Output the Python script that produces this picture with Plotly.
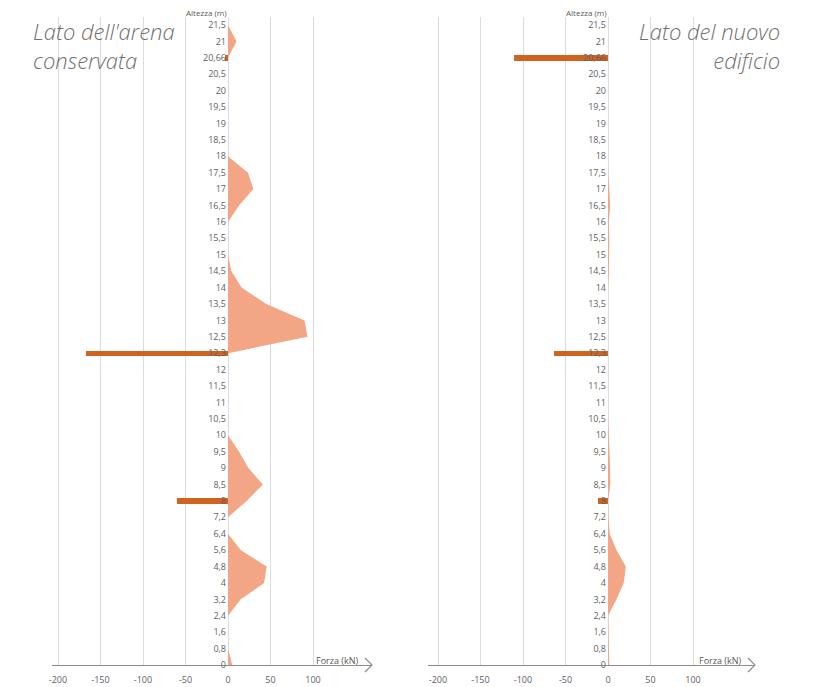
import plotly.graph_objects as go

W, H = 814, 687
OFF = 8  # page body margin offset

heights = ["0", "0,8", "1,6", "2,4", "3,2", "4", "4,8", "5,6", "6,4", "7,2",
           "8", "8,5", "9", "9,5", "10", "10,5", "11", "11,5", "12", "12,3",
           "12,5", "13", "13,5", "14", "14,5", "15", "15,5", "16", "16,5", "17",
           "17,5", "18", "18,5", "19", "19,5", "20", "20,5", "20,66", "21", "21,5"]

# distributed pressure (area) per height, kN
left_area = [5, 0, 0, 0, 15, 42.5, 45.5, 15.3, 0, 0,
             22, 41, 24, 13, 0, 0, 0, 0, 0, 0,
             93.5, 90, 45, 16, 4, 0, 0, 0, 13, 29.8,
             23.5, 0, 0, 0, 0, 0, 0, 0, 10, 0]
right_area = [1.5, 1, 0, 0, 10, 18.5, 21, 10, 2, 0.5,
              0, 2.7, 2.5, 2, 1, 0, 0, 0, 0, 0,
              0, 0, 0, 0, 1, 1.5, 1.5, 1, 2.5, 1.5,
              0, 0, 0, 0, 0, 0, 0, 0, 0, 0]

# concentrated forces (bars)
bar_heights = ["8", "12,3", "20,66"]
left_bars = [-60, -167, -3.5]
right_bars = [-12, -63.5, -111]

x_ticks = [-200, -150, -100, -50, 0, 50, 100]

AREA = "#F2A685"
BAR = "#D0641F"
GRID = "#DCDCDC"
TXT = "#5E5E6A"

def px(v):
    return (v - OFF) / W

def py(v):
    return (H - (v - OFF)) / H

fig = go.Figure()

panels = [
    dict(area=left_area, bars=left_bars, xd=(52, 372), zero=228, xa="x", ya="y"),
    dict(area=right_area, bars=right_bars, xd=(428, 755), zero=608, xa="x2", ya="y2"),
]
k = 0.85  # px per kN

for i, p in enumerate(panels):
    fig.add_trace(go.Scatter(x=p["area"], y=heights, fill="tozerox", mode="lines",
                             line=dict(width=0, color=AREA), fillcolor=AREA,
                             xaxis=p["xa"], yaxis=p["ya"], showlegend=False,
                             hoverinfo="skip"))
    fig.add_trace(go.Bar(x=p["bars"], y=bar_heights, orientation="h",
                         marker=dict(color=BAR, line=dict(width=0)), width=0.34,
                         xaxis=p["xa"], yaxis=p["ya"], showlegend=False))

y_top_px, y_bot_px = 16.8, 665
ydom = [py(y_bot_px), py(y_top_px)]
yrange = [0, 39.5]

layout = dict(width=W, height=H, margin=dict(l=0, r=0, t=0, b=0, autoexpand=False),
              plot_bgcolor="white", paper_bgcolor="white", bargap=0,
              font=dict(family="Open Sans", color=TXT, size=9))

for i, p in enumerate(panels):
    sfx = "" if i == 0 else "2"
    x0, x1 = p["xd"]
    rng = [(x0 - p["zero"]) / k, (x1 - p["zero"]) / k]
    layout["xaxis" + sfx] = dict(domain=[px(x0), px(x1)], range=rng,
                                 tickvals=x_ticks, ticktext=[str(t) for t in x_ticks],
                                 showgrid=True, gridcolor=GRID, gridwidth=1,
                                 zeroline=False, showline=True, linecolor="#8C8C8C",
                                 linewidth=1.2, ticks="", ticklen=0,
                                 ticklabelstandoff=6,
                                 tickfont=dict(size=9, color=TXT), automargin=False,
                                 anchor="y" + sfx, fixedrange=True)
    layout["yaxis" + sfx] = dict(domain=ydom, range=yrange, type="category",
                                 categoryorder="array", categoryarray=heights,
                                 anchor="free", position=px(p["zero"]),
                                 showgrid=False, zeroline=False, showline=False,
                                 ticks="", tickfont=dict(size=9, color=TXT),
                                 automargin=False,
                                 ticklabelstandoff=2, fixedrange=True)

fig.update_layout(**layout)

# axis arrows and labels
for p in panels:
    xe = p["xd"][1]
    fig.add_shape(type="path", xref="paper", yref="paper",
                  path=f"M {px(xe-7)} {py(658)} L {px(xe)} {py(665)} L {px(xe-7)} {py(672)}",
                  line=dict(color="#8C8C8C", width=1.2))
    fig.add_annotation(x=px(xe - 12), y=py(660), xref="paper", yref="paper",
                       text="Forza (kN)", showarrow=False, xanchor="right",
                       yanchor="middle", font=dict(size=9, color="#595959"))
    fig.add_annotation(x=px(p["zero"] - 22), y=py(13), xref="paper", yref="paper",
                       text="Altezza (m)", showarrow=False, xanchor="center",
                       yanchor="middle", font=dict(size=8, color="#595959"))

fig.add_annotation(x=px(31), y=py(14), xref="paper", yref="paper",
                   text="<i>Lato dell'arena<br>conservata</i>", showarrow=False,
                   xanchor="left", yanchor="top", align="left",
                   font=dict(family="Open Sans", size=22, color="#707070", weight=300))
fig.add_annotation(x=px(782), y=py(14), xref="paper", yref="paper",
                   text="<i>Lato del nuovo<br>edificio</i>", showarrow=False,
                   xanchor="right", yanchor="top", align="right",
                   font=dict(family="Open Sans", size=22, color="#707070", weight=300))

fig.write_html("out.html")
